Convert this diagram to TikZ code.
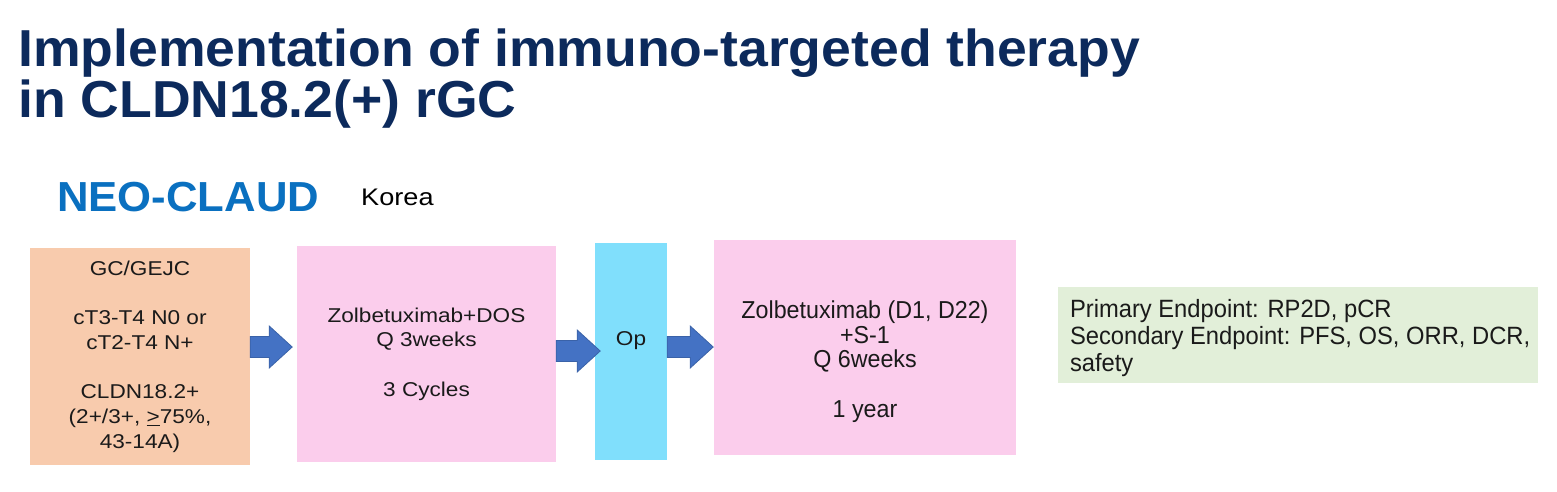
\documentclass[tikz,border=0pt]{standalone}
\usepackage{fontspec}
\setmainfont{Liberation Sans}
\usetikzlibrary{calc}
\definecolor{titleblue}{HTML}{0C2A5C}
\definecolor{neoblue}{HTML}{0A70C0}
\definecolor{orangebox}{HTML}{F8CBAD}
\definecolor{pinkbox}{HTML}{FBCDEC}
\definecolor{cyanbox}{HTML}{80DFFC}
\definecolor{greenbox}{HTML}{E2EFD9}
\definecolor{arrowfill}{HTML}{4472C4}
\definecolor{arrowline}{HTML}{3A62A8}
\definecolor{bodytext}{HTML}{1A1A1A}
\newcommand\blockarr[2]{%
  \filldraw[barrow] (#1) ++(0,-10.5) -- ++({#2-23},0) -- ++(0,-10.5) -- ++(23,21) -- ++(-23,21) -- ++(0,-10.5) -- ++({-(#2-23)},0) -- cycle;}
\begin{document}
\begin{tikzpicture}[x=1pt,y=-1pt,
  box/.style={draw=none,inner sep=0pt,rectangle},
  boxtxt/.style={inner sep=0pt,align=center,text=bodytext,font=\fontsize{20}{24.7}\selectfont,xscale=1.13},
  narrowtxt/.style={inner sep=0pt,text=bodytext,font=\fontsize{25}{27}\selectfont,xscale=0.95},
  titletxt/.style={inner sep=0pt,anchor=base west,text=titleblue,font=\fontsize{52}{54}\selectfont\bfseries,xscale=1.03},
  barrow/.style={fill=arrowfill,draw=arrowline,line width=0.8pt,line join=miter}]
\useasboundingbox[fill=white] (0,0) rectangle (1557,491);
% title
\node[titletxt] (title1) at (18,66) {Implementation of immuno-targeted therapy};
\node[titletxt] (title2) at (18,117) {in CLDN18.2(+) rGC};
\node[inner sep=0pt,anchor=base west,text=neoblue,font=\fontsize{42}{44}\selectfont\bfseries,xscale=1.04] (neo) at (57,211) {NEO-CLAUD};
\node[inner sep=0pt,anchor=base west,text=black,font=\fontsize{24}{26}\selectfont,xscale=1.13] (korea) at (361,205) {Korea};
% boxes
\node[box,fill=orangebox,minimum width=220,minimum height=217] (elig) at (140,356.5) {};
\node[box,fill=pinkbox,minimum width=259,minimum height=216] (neoadj) at (426.5,354) {};
\node[box,fill=cyanbox,minimum width=72,minimum height=217] (op) at (631,351.5) {};
\node[box,fill=pinkbox,minimum width=302,minimum height=215] (adj) at (865,347.5) {};
\node[box,fill=greenbox,minimum width=480,minimum height=96] (endp) at (1298,335) {};
% texts
\node[boxtxt] (eligtxt) at (elig.center) {GC/GEJC\\~\\cT3-T4 N0 or\\cT2-T4 N+\\~\\CLDN18.2+\\(2+/3+, \underline{>}75\%,\\43-14A)};
\node[boxtxt] (neoadjtxt) at (neoadj.center) {Zolbetuximab+DOS\\Q 3weeks\\~\\3 Cycles};
\node[boxtxt] (optxt) at ($(op.center)+(0,-11)$) {Op};
\node[narrowtxt,align=center,font=\fontsize{24.5}{24.8}\selectfont,xscale=1.0] (adjtxt) at ($(adj.center)+(0,14)$) {Zolbetuximab (D1, D22)\\+S-1\\Q 6weeks\\~\\1 year};
\node[narrowtxt,align=left,anchor=west] (endptxt) at ($(endp.west)+(12,3)$) {Primary Endpoint: RP2D, pCR\\Secondary Endpoint: PFS, OS, ORR, DCR,\\safety};
% arrows
\blockarr{elig.east |- 0,347}{42}
\blockarr{neoadj.east |- 0,351}{44}
\blockarr{op.east |- 0,347}{46}
\end{tikzpicture}
\end{document}
